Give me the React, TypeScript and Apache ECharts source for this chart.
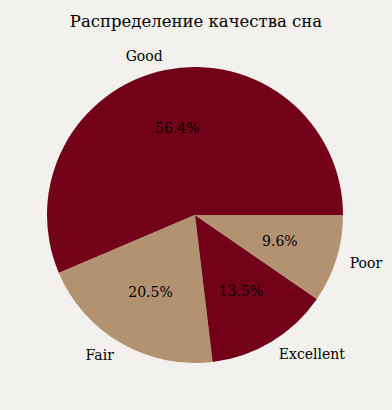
import React, { useEffect, useRef } from "react";
import * as echarts from "echarts";

const categories = ["Good", "Fair", "Excellent", "Poor"];
const values = [56.4, 20.5, 13.5, 9.6];
const colors = ["#730019", "#b39271", "#730019", "#b39271"];

export default function App() {
  const ref = useRef<HTMLDivElement>(null);
  useEffect(() => {
    if (!ref.current) return;
    const chart = echarts.init(ref.current, null, { renderer: "svg" });
    const R = 148;
    const data = categories.map((name, i) => ({
      name,
      value: values[i],
      itemStyle: { color: colors[i] },
    }));
    const font = "DejaVu Serif";
    chart.setOption({
      animation: false,
      backgroundColor: "#f2f1ed",
      title: {
        text: "Распределение качества сна",
        left: "center",
        top: 8,
        textStyle: { fontFamily: font, fontSize: 16.5, fontWeight: "normal", color: "#000" },
      },
      series: [
        {
          type: "pie",
          center: [195, 215],
          radius: [0, R],
          startAngle: 0,
          clockwise: false,
          avoidLabelOverlap: false,
          silent: true,
          data,
          label: {
            show: true,
            position: "outside",
            formatter: "{b}",
            fontFamily: font,
            fontSize: 14,
            color: "#000",
            distanceToLabelLine: 0,
          },
          labelLine: { show: false, length: 14, length2: 0 },
        },
        {
          type: "pie",
          center: [195, 215],
          radius: [0, R * 1.16],
          startAngle: 0,
          clockwise: false,
          avoidLabelOverlap: false,
          silent: true,
          data: categories.map((name, i) => ({ name, value: values[i] })),
          itemStyle: { color: "transparent" },
          label: {
            show: true,
            position: "inside",
            formatter: (p: any) => p.value.toFixed(1) + "%",
            fontFamily: font,
            fontSize: 14,
            color: "#000",
          },
          labelLine: { show: false },
        },
      ],
    });
    return () => chart.dispose();
  }, []);
  return (
    <div
      ref={ref}
      style={{ position: "absolute", left: 0, top: 0, width: 392, height: 410 }}
    />
  );
}
